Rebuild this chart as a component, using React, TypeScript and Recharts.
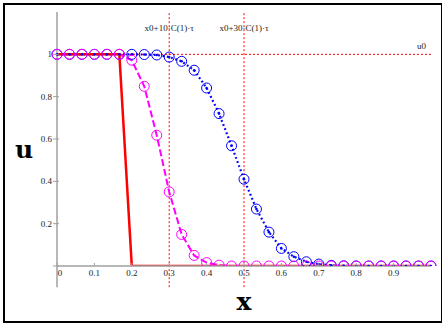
import { Line, LineChart, ReferenceLine, XAxis, YAxis } from "recharts";

// grid points (step 1/30)
const xGrid = [
  0, 0.0333, 0.0667, 0.1, 0.1333, 0.1667, 0.2, 0.2333, 0.2667, 0.3, 0.3333,
  0.3667, 0.4, 0.4333, 0.4667, 0.5, 0.5333, 0.5667, 0.6, 0.6333, 0.6667, 0.7,
  0.7333, 0.7667, 0.8, 0.8333, 0.8667, 0.9, 0.9333, 0.9667, 1,
];

// initial profile u0
const u0 = [
  1, 1, 1, 1, 1, 1, 0, 0, 0, 0, 0, 0, 0, 0, 0, 0, 0, 0, 0, 0, 0, 0, 0, 0, 0, 0,
  0, 0, 0, 0, 0,
];

// after 10 steps
const u10 = [
  1, 1, 1, 1, 1, 1, 0.972, 0.849, 0.618, 0.35, 0.149, 0.05, 0.016, 0.004, 0, 0,
  0, 0, 0, 0, 0, 0, 0, 0, 0, 0, 0, 0, 0, 0, 0,
];

// after 30 steps
const u30 = [
  1, 1, 1, 1, 1, 1, 1, 0.999, 0.997, 0.987, 0.967, 0.925, 0.841, 0.72, 0.568,
  0.41, 0.269, 0.16, 0.083, 0.044, 0.02, 0.009, 0.003, 0.001, 0, 0, 0, 0, 0, 0,
  0,
];

const xTicks = [0, 0.1, 0.2, 0.3, 0.4, 0.5, 0.6, 0.7, 0.8, 0.9];
const yTicks = [0, 0.2, 0.4, 0.6, 0.8, 1];

const markers = [
  { x: 0.3, text: "x0+10·C(1)·τ" },
  { x: 0.5, text: "x0+30·C(1)·τ" },
];

const data = xGrid.map((x, i) => ({ x, u0: u0[i], u10: u10[i], u30: u30[i] }));

const AXIS = "#a0a0a0";
const SERIF = "'Liberation Serif', 'DejaVu Serif', serif";
const BIG = "'DejaVu Serif', serif";

const XTick = (props: any) => {
  const { x, y, payload } = props;
  const v = payload.value;
  return (
    <g>
      <line x1={x} x2={x} y1={y - 3} y2={y} stroke={AXIS} strokeWidth={1} />
      <text
        x={v === 0 ? x + 3 : x}
        y={y + 10}
        textAnchor="middle"
        fontSize={9}
        fontFamily={SERIF}
        fill="#222"
      >
        {String(v)}
      </text>
    </g>
  );
};

const YTick = (props: any) => {
  const { x, y, payload } = props;
  const v = payload.value;
  return (
    <g>
      <line x1={x - 4} x2={x + 2} y1={y} y2={y} stroke={AXIS} strokeWidth={1} />
      {v !== 0 && (
        <text
          x={x - 5}
          y={y}
          dy="0.35em"
          textAnchor="end"
          fontSize={9}
          fontFamily={SERIF}
          fill="#222"
        >
          {String(v)}
        </text>
      )}
    </g>
  );
};

const BlueDot = (props: any) => {
  const { cx, cy, index } = props;
  return (
    <g key={`b${index}`}>
      <circle cx={cx} cy={cy} r={5} fill="none" stroke="#0000ff" strokeWidth={1} />
      <circle cx={cx} cy={cy} r={1.3} fill="#0000ff" />
    </g>
  );
};

const PinkDot = (props: any) => {
  const { cx, cy, index } = props;
  return (
    <circle key={`m${index}`} cx={cx} cy={cy} r={5} fill="none" stroke="#ff00ff" strokeWidth={1} />
  );
};

export default function App() {
  return (
    <div style={{ position: "absolute", left: 0, top: 0, width: 442, height: 323, background: "#fff" }}>
      <LineChart
        width={442}
        height={323}
        data={data}
        margin={{ top: 12, right: 11, bottom: 0, left: 0 }}
      >
        <XAxis
          type="number"
          dataKey="x"
          domain={[0, 1]}
          ticks={xTicks}
          interval={0}
          height={57}
          tickSize={0}
          tickMargin={0}
          tickLine={false}
          axisLine={{ stroke: AXIS, strokeWidth: 1.5 }}
          tick={XTick}
          label={{
            value: "x",
            position: "insideBottom",
            offset: 13,
            fontSize: 25,
            fontWeight: "bold",
            fontFamily: BIG,
            fill: "#000",
          }}
        />
        <YAxis
          type="number"
          domain={[0, 1.2]}
          allowDataOverflow
          ticks={yTicks}
          interval={0}
          width={57}
          tickSize={0}
          tickMargin={0}
          tickLine={false}
          axisLine={false}
          tick={YTick}
          label={{
            value: "u",
            position: "insideLeft",
            offset: 15,
            dy: 10,
            fontSize: 25,
            fontWeight: "bold",
            fontFamily: BIG,
            fill: "#000",
          }}
        />
        <ReferenceLine
          segment={[{ x: 0, y: -0.1 }, { x: 0, y: 1.2 }]}
          stroke={AXIS}
          strokeWidth={1.5}
          ifOverflow="visible"
        />
        <ReferenceLine
          y={1}
          stroke="#ff0000"
          strokeWidth={1}
          strokeDasharray="2 2"
          label={{ value: "u0", position: "insideBottomRight", offset: 5, fontSize: 9, fontFamily: SERIF, fill: "#222" }}
        />
        {markers.map((m) => (
          <ReferenceLine
            key={m.text}
            segment={[{ x: m.x, y: -0.1 }, { x: m.x, y: 1.2 }]}
            stroke="#ff0000"
            strokeWidth={1}
            strokeDasharray="2 2"
            ifOverflow="visible"
            label={{ value: m.text, position: "insideTop", offset: 13, fontSize: 9, fontFamily: SERIF, fill: "#222" }}
          />
        ))}
        <Line
          dataKey="u30"
          type="linear"
          stroke="#0000ff"
          strokeWidth={2.2}
          strokeDasharray="1.8 2.6"
          dot={BlueDot}
          activeDot={false}
          isAnimationActive={false}
        />
        <Line
          dataKey="u10"
          type="linear"
          stroke="#ff00ff"
          strokeWidth={2}
          strokeDasharray="7 3"
          dot={PinkDot}
          activeDot={false}
          isAnimationActive={false}
        />
        <Line
          dataKey="u0"
          type="linear"
          stroke="#ff0000"
          strokeWidth={2.5}
          dot={false}
          activeDot={false}
          isAnimationActive={false}
        />
      </LineChart>
      <div
        style={{
          position: "absolute",
          left: 3,
          top: 3,
          width: 436,
          height: 316,
          border: "2px solid #000",
          pointerEvents: "none",
        }}
      />
    </div>
  );
}
